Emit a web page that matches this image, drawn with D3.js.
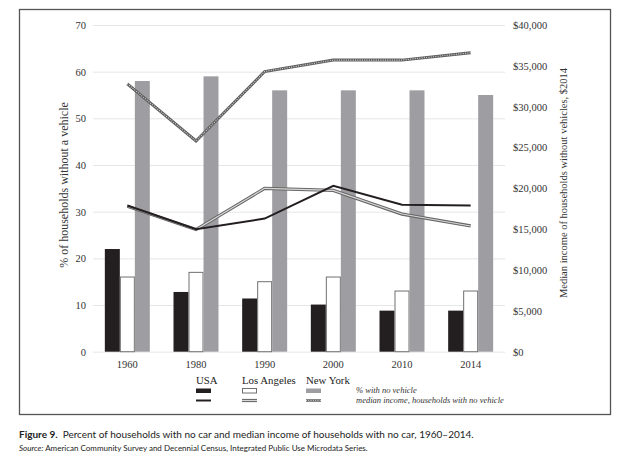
<!DOCTYPE html>
<html><head><meta charset="utf-8">
<script src="https://cdn.jsdelivr.net/npm/d3@7"></script>
<style>
html,body{margin:0;padding:0;background:#fff;}
svg{display:block;}
</style></head>
<body>
<svg id="chart" width="620" height="460"></svg>
<script>
const years = ["1960","1980","1990","2000","2010","2014"];
const seriesNames = ["USA","Los Angeles","New York"];
const pctUSA = [22, 12.8, 11.4, 10.1, 8.8, 8.8];
const pctLA = [16, 17, 15, 16, 13, 13];
const pctNY = [58, 59, 56, 56, 56, 55];
const incUSA = [17900, 15000, 16300, 20300, 18000, 17900];
const incLA = [17800, 14950, 20000, 19750, 16850, 15400];
const incNY = [32800, 25800, 34300, 35700, 35700, 36600];
const leftTicks = [0,10,20,30,40,50,60,70];
const rightTicks = [0,5000,10000,15000,20000,25000,30000,35000,40000];

(function(){
const svg = d3.select("#chart");
const serif = "'Liberation Serif','DejaVu Serif',serif";
const sans = "Lato,'Open Sans','DejaVu Sans',sans-serif";

// frame
svg.append("rect").attr("x",19.5).attr("y",9.5).attr("width",591).attr("height",405)
  .attr("fill","none").attr("stroke","#555").attr("stroke-width",1.3);

const pL = 93, pR = 505, pT = 25, pB = 351.7;
const x0 = d3.scaleBand().domain(years).range([pL,pR]);
const bw = x0.bandwidth();
const groupW = 45;
const x1 = d3.scaleBand().domain(seriesNames).range([(bw-groupW)/2,(bw+groupW)/2]);
const yL = d3.scaleLinear().domain([0,70]).range([pB,pT]);
const yR = d3.scaleLinear().domain([0,40000]).range([pB,pT]);

// gridlines
const grid = svg.append("g").attr("transform",`translate(${pL},0)`)
  .call(d3.axisLeft(yL).tickValues(leftTicks).tickSize(-(pR-pL)).tickFormat(""));
grid.select(".domain").remove();
grid.selectAll("line").attr("stroke","#e6e6e6").attr("stroke-width",1);

// left axis labels
const ax = svg.append("g").attr("transform",`translate(${pL},0)`)
  .call(d3.axisLeft(yL).tickValues(leftTicks).tickSize(0).tickPadding(7).tickFormat(d3.format("d")));
ax.select(".domain").remove();
ax.selectAll("text").attr("font-family",serif).attr("font-size",10.5).attr("fill","#333");

// right axis labels
const ar = svg.append("g").attr("transform",`translate(${pR},0)`)
  .call(d3.axisRight(yR).tickValues(rightTicks).tickSize(0).tickPadding(8).tickFormat(d=>"$"+d3.format(",")(d)));
ar.select(".domain").remove();
ar.selectAll("text").attr("font-family",serif).attr("font-size",10.5).attr("fill","#333");

// x axis labels
const axb = svg.append("g").attr("transform",`translate(0,${pB})`)
  .call(d3.axisBottom(x0).tickSize(0).tickPadding(9));
axb.select(".domain").remove();
axb.selectAll("text").attr("font-family",serif).attr("font-size",10.5).attr("fill","#333");

// bars
const pctData = [pctUSA, pctLA, pctNY];
const barFill = ["#231f20","#ffffff","#9e9ea2"];
const barStroke = ["none","#707070","none"];
seriesNames.forEach((s,si)=>{
  svg.append("g").selectAll("rect").data(years).join("rect")
    .attr("x",d=>x0(d)+x1(s)+(si===1?0.5:0))
    .attr("width",x1.bandwidth()-(si===1?1:0))
    .attr("y",(d,i)=>yL(pctData[si][i]))
    .attr("height",(d,i)=>pB-yL(pctData[si][i]))
    .attr("fill",barFill[si]).attr("stroke",barStroke[si]).attr("stroke-width",1);
});

// lines
const line = arr => d3.line().x((d,i)=>x0(years[i])+bw/2).y(d=>yR(d))(arr);
// NY: hatched
svg.append("path").attr("d",line(incNY)).attr("fill","none").attr("stroke","#5e5e5e").attr("stroke-width",3);
svg.append("path").attr("d",line(incNY)).attr("fill","none").attr("stroke","#ffffff").attr("stroke-width",1.1).attr("stroke-dasharray","1,1.3").attr("opacity",0.75);
// LA: double gray
svg.append("path").attr("d",line(incLA)).attr("fill","none").attr("stroke","#666").attr("stroke-width",3.2);
svg.append("path").attr("d",line(incLA)).attr("fill","none").attr("stroke","#d8d8d8").attr("stroke-width",1.1);
// USA: solid black
svg.append("path").attr("d",line(incUSA)).attr("fill","none").attr("stroke","#231f20").attr("stroke-width",2);

// axis titles
svg.append("text").attr("transform","translate(68,185) rotate(-90)").attr("text-anchor","middle")
  .attr("font-family",serif).attr("font-size",12).attr("fill","#333").text("% of households without a vehicle");
svg.append("text").attr("transform","translate(567,183) rotate(-90)").attr("text-anchor","middle")
  .attr("font-family",serif).attr("font-size",10.5).attr("fill","#333").text("Median income of households without vehicles, $2014");

// legend
const legX = [196,242,306];
const lg = svg.append("g");
seriesNames.forEach((s,si)=>{
  lg.append("text").attr("x",legX[si]).attr("y",384).attr("font-family",serif).attr("font-size",10.8).attr("fill","#222").text(s);
  lg.append("rect").attr("x",legX[si]+(si===1?0.5:0)).attr("y",388.5).attr("width",15-(si===1?1:0)).attr("height",4.5)
    .attr("fill",barFill[si]).attr("stroke",barStroke[si]).attr("stroke-width",1);
});
const ly = 400.5;
lg.append("line").attr("x1",legX[0]).attr("x2",legX[0]+15).attr("y1",ly).attr("y2",ly).attr("stroke","#231f20").attr("stroke-width",2);
lg.append("line").attr("x1",legX[1]).attr("x2",legX[1]+15).attr("y1",ly).attr("y2",ly).attr("stroke","#666").attr("stroke-width",3.2);
lg.append("line").attr("x1",legX[1]).attr("x2",legX[1]+15).attr("y1",ly).attr("y2",ly).attr("stroke","#d8d8d8").attr("stroke-width",1.1);
lg.append("line").attr("x1",legX[2]).attr("x2",legX[2]+15).attr("y1",ly).attr("y2",ly).attr("stroke","#5e5e5e").attr("stroke-width",2.5);
lg.append("line").attr("x1",legX[2]).attr("x2",legX[2]+15).attr("y1",ly).attr("y2",ly).attr("stroke","#fff").attr("stroke-width",1).attr("stroke-dasharray","1,1.3").attr("opacity",0.75);
lg.append("text").attr("x",356).attr("y",392.5).attr("font-family",serif).attr("font-style","italic").attr("font-size",8.5).attr("fill","#333").text("% with no vehicle");
lg.append("text").attr("x",356).attr("y",403).attr("font-family",serif).attr("font-style","italic").attr("font-size",8.5).attr("fill","#333").text("median income, households with no vehicle");

// caption
const cap = svg.append("text").attr("x",19).attr("y",438).attr("font-family",sans).attr("font-size",10).attr("fill","#222");
cap.append("tspan").attr("font-weight","bold").text("Figure 9.");
cap.append("tspan").text("\u2002Percent of households with no car and median income of households with no car, 1960\u20132014.");
const src = svg.append("text").attr("x",19).attr("y",451).attr("font-family",sans).attr("font-size",8).attr("fill","#222");
src.append("tspan").attr("font-style","italic").text("Source:");
src.append("tspan").text(" American Community Survey and Decennial Census, Integrated Public Use Microdata Series.");
})();
</script>
</body></html>
